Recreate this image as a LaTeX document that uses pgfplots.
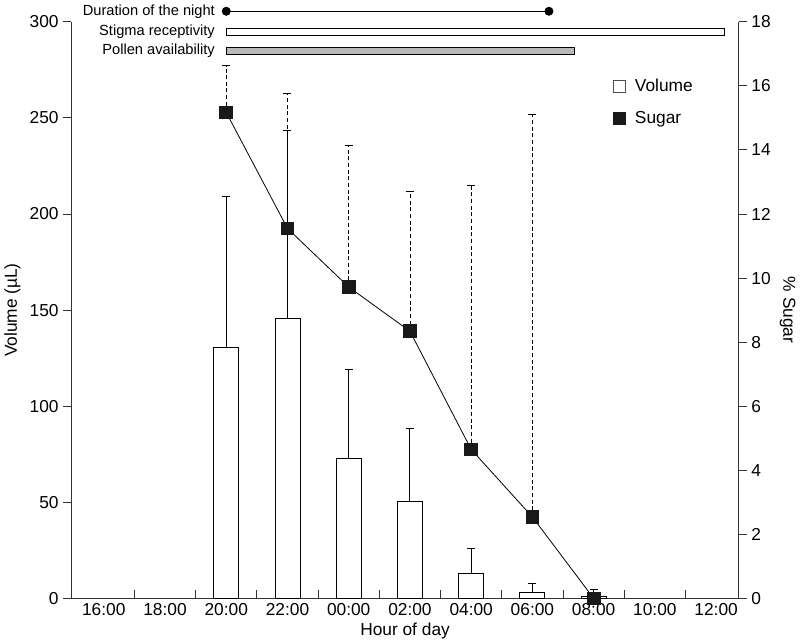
\documentclass[border=0pt]{standalone}
\usepackage{fontspec}
\setmainfont{Liberation Sans}
\usepackage{pgfplots}
\pgfplotsset{compat=1.18}
\definecolor{pollen}{RGB}{185,185,185}
\definecolor{axgray}{RGB}{50,50,50}

\pgfplotsset{
  common/.style={
    scale only axis, width=501pt, height=432.75pt,
    xmin=-0.53, xmax=10.37,
    clip=false,
    /pgf/number format/assume math mode=true,
    tick label style={font=\fontsize{13}{15}\selectfont},
    label style={font=\fontsize{13}{15}\selectfont},
    axis line style={axgray, line width=0.7pt},
    every tick/.style={axgray, line width=0.7pt},
  }
}

\begin{document}
\begin{tikzpicture}
% volume bars, x axis and the top annotations
\begin{axis}[common,
    ymin=0, ymax=300,
    axis x line*=bottom, axis y line=none,
    xtick={0,...,10},
    xticklabels={16:00,18:00,20:00,22:00,00:00,02:00,04:00,06:00,08:00,10:00,12:00},
    major x tick style={draw=none},
    minor xtick={0.5,1.5,...,9.5},
    minor tick length=6.5pt,
    tick align=inside,
    xlabel={Hour of day},
    xlabel style={yshift=1pt},
]
\addplot[ybar, bar width=18.75pt, fill=white, draw=black, line width=0.7pt,
    error bars/.cd, y dir=plus, y explicit,
    error bar style={black, line width=0.7pt},
    error mark options={rotate=90, mark size=3pt, black, line width=0.7pt}]
coordinates {
    (2,130.7) +- (0,78.2)
    (3,145.8) +- (0,97.6)
    (4,72.6)  +- (0,46.4)
    (5,50.6)  +- (0,37.6)
    (6,12.9)  +- (0,13.0)
    (7,3.3)   +- (0,4.5)
    (8,1.2)   +- (0,3.6)
};
% duration of the night
\addplot[black, line width=0.7pt, mark=*, mark size=3pt]
coordinates {(2.0,305.5) (7.27,305.5)};
% stigma receptivity
\addplot[draw=black, fill=white, line width=0.6pt]
coordinates {(2.0,292.8) (10.13,292.8) (10.13,296.8) (2.0,296.8) (2.0,292.8)};
% pollen availability
\addplot[draw=black, fill=pollen, line width=0.6pt]
coordinates {(2.0,282.9) (7.69,282.9) (7.69,286.9) (2.0,286.9) (2.0,282.9)};
\node[anchor=east, font=\fontsize{11}{13}\selectfont] at (axis cs:1.89,305.5) {Duration of the night};
\node[anchor=east, font=\fontsize{11}{13}\selectfont] at (axis cs:1.89,294.8) {Stigma receptivity};
\node[anchor=east, font=\fontsize{11}{13}\selectfont] at (axis cs:1.89,284.9) {Pollen availability};
\end{axis}

% left y axis
\begin{axis}[common,
    ymin=0, ymax=300,
    axis y line*=left, axis x line=none,
    ytick={0,50,...,300},
    tick align=outside, major tick length=6pt,
    ylabel={Volume (µL)},
]
\addplot[draw=none] coordinates {(0,0)};
\end{axis}

% sugar on the right axis
\begin{axis}[common,
    ymin=0, ymax=18,
    axis y line*=right, axis x line=none,
    ytick={0,2,...,18},
    tick align=outside, major tick length=6pt,
    ylabel={\% Sugar},
    ylabel style={rotate=180},
    legend style={draw=none, fill=none, at={(0.805,0.91)}, anchor=north west,
        font=\fontsize{13}{15}\selectfont, row sep=9pt,
        /tikz/every odd column/.append style={column sep=5pt}},
    legend cell align=left,
]
\addlegendimage{only marks, mark=square, mark size=4.6pt, mark options={black!70, fill=white, line width=0.7pt}}
\addlegendentry{Volume}
\addlegendimage{only marks, mark=square*, mark size=4.8pt, mark options={black!90, fill=black!90}}
\addlegendentry{Sugar}
\addplot[forget plot, black, line width=0.6pt, mark=square*, mark size=4.8pt,
    mark options={solid, draw=black!90, fill=black!90},
    error bars/.cd, y dir=plus, y explicit,
    error bar style={densely dashed, black, line width=0.6pt},
    error mark options={rotate=90, mark size=3pt, solid, black, line width=0.7pt}]
coordinates {
    (2,15.17) +- (0,1.46)
    (3,11.55) +- (0,4.20)
    (4,9.72)  +- (0,4.42)
    (5,8.34)  +- (0,4.36)
    (6,4.65)  +- (0,8.25)
    (7,2.54)  +- (0,12.56)
    (8,0)     +- (0,0)
};
\end{axis}
\end{tikzpicture}
\end{document}
